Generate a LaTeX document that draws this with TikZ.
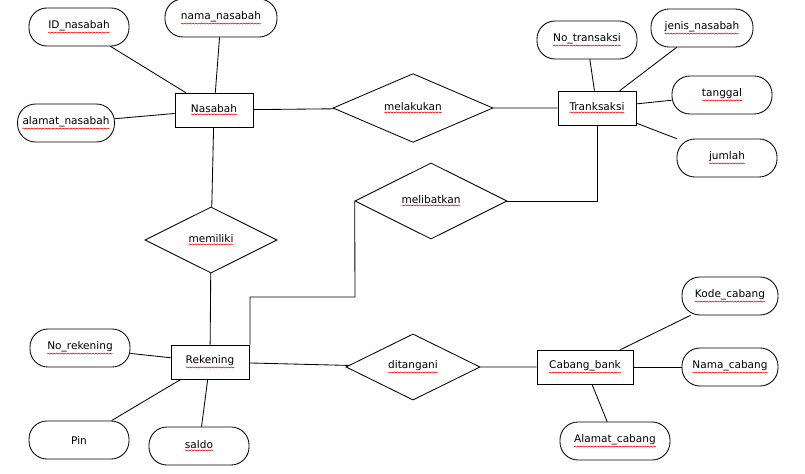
\documentclass[tikz,border=0pt]{standalone}
\usepackage{fontspec}
\setmainfont{DejaVu Sans}
\usepackage{tikz}
\usetikzlibrary{shapes.geometric,decorations.pathmorphing}
\newcommand{\sq}[1]{\tikz[baseline = (t.base), sharp corners]{%
  \node[shape = rectangle, draw = none, inner sep = 0pt, outer sep = 0pt,
        minimum width = 0pt, minimum height = 0pt] (t) {#1};
  \draw[red, thin, decorate, decoration = {snake, amplitude = 0.35pt, segment length = 2pt}]
    ([yshift = -1pt]t.south west) -- ([yshift = -1pt]t.south east);}}

\begin{document}
\begin{tikzpicture}[x = 0.025cm, y = -0.025cm, semithick,
                    font = \fontsize{7.5}{9}\selectfont,
                    entity/.style = {rectangle,
                                     draw,
                                     minimum width = 1.95cm,
                                     minimum height = 0.85cm},
                    rel/.style    = {diamond,
                                     draw,
                                     inner sep = 0pt},
                    attr/.style   = {rectangle,
                                     rounded corners = 0.45cm,
                                     draw,
                                     minimum width = 2.5cm,
                                     minimum height = 0.95cm}]

\useasboundingbox (0,0) rectangle (805,474);

% entities
\node[entity] (N) at (214,110) {\sq{Nasabah}};
\node[entity] (T) at (597,108) {\sq{Tranksaksi}};
\node[entity] (R) at (210,362) {\sq{Rekening}};
\node[entity, minimum width = 2.4cm] (C) at (585,367) {\sq{Cabang\_bank}};

% relations
\node[rel, minimum width = 4cm, minimum height = 1.55cm] (lak) at (413,108) {\sq{melakukan}};
\node[rel, minimum width = 3.8cm, minimum height = 1.9cm] (lib) at (431,201) {\sq{melibatkan}};
\node[rel, minimum width = 3.3cm, minimum height = 1.65cm] (mil) at (211,240) {\sq{memiliki}};
\node[rel, minimum width = 3.35cm, minimum height = 1.65cm] (tan) at (413,367) {\sq{ditangani}};

% attributes
\node[attr] (idn) at (79,27)   {\sq{ID\_nasabah}};
\node[attr, minimum width = 2.8cm] (nmn) at (221,18) {\sq{nama\_nasabah}};
\node[attr, minimum width = 2.4cm] (aln) at (66,123) {\sq{alamat\_nasabah}};
\node[attr] (not) at (587,40)  {\sq{No\_transaksi}};
\node[attr, minimum width = 2.55cm] (jen) at (702,28) {\sq{jenis\_nasabah}};
\node[attr] (tgl) at (722,95)  {\sq{tanggal}};
\node[attr] (jml) at (727,158) {\sq{jumlah}};
\node[attr, minimum width = 2.4cm] (kdc) at (730,296) {\sq{Kode\_cabang}};
\node[attr, minimum width = 2.4cm] (nmc) at (730,367) {\sq{Nama\_cabang}};
\node[attr, minimum width = 2.75cm] (alc) at (615,441) {\sq{Alamat\_cabang}};
\node[attr] (nor) at (80,348)  {\sq{No\_rekening}};
\node[attr] (pin) at (79,440)  {Pin};
\node[attr] (sal) at (199,446) {\sq{saldo}};

% links
\draw (N) -- (lak) -- (T);
\draw (N) -- (mil) -- (R);
\draw (R) -- (tan) -- (C);
\draw (T.south) |- (lib.east);
\draw (lib.west) -- (355,297) -- (250,297) -- (R.north -| 250,0);

\draw (N) -- (idn);
\draw (N) -- (nmn);
\draw (N) -- (aln);
\draw (T) -- (not);
\draw (T) -- (jen);
\draw (T) -- (tgl);
\draw (T) -- (jml);
\draw (C) -- (kdc);
\draw (C) -- (nmc);
\draw (C) -- (alc);
\draw (R) -- (nor);
\draw (R) -- (pin);
\draw (R) -- (sal);

\end{tikzpicture}
\end{document}
